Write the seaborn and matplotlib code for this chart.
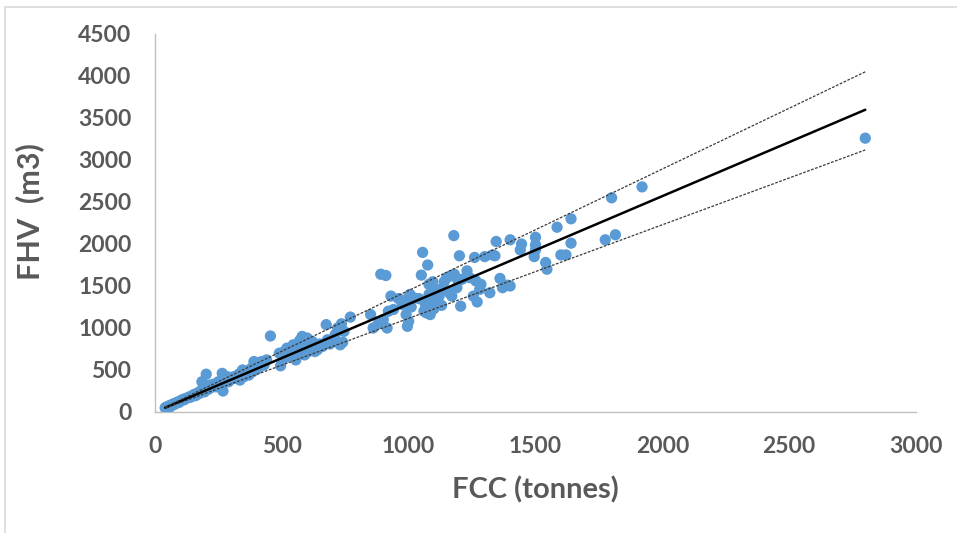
import matplotlib
matplotlib.use("Agg")
import matplotlib.pyplot as plt
from matplotlib.lines import Line2D
import seaborn as sns
import pandas as pd

# ---- data ----
fcc = [40, 45, 50, 55, 60, 62, 70, 75, 80, 85, 90, 95, 100, 105, 110, 115, 120, 130, 135, 140,
       150, 155, 160, 170, 175, 180, 185, 190, 195, 200, 202, 205, 210, 215, 220, 225, 230, 240, 245, 250,
       255, 260, 265, 268, 270, 275, 280, 285, 290, 300, 305, 310, 320, 325, 330, 335, 340, 345, 350, 355,
       360, 370, 380, 385, 390, 395, 400, 405, 410, 420, 430, 440, 455, 490, 495, 500, 510, 515, 520, 530,
       535, 540, 545, 550, 555, 560, 565, 570, 575, 580, 585, 590, 595, 600, 605, 610, 615, 620, 625, 630,
       640, 650, 660, 675, 680, 690, 700, 710, 720, 730, 735, 740, 745, 770, 850, 860, 880, 890, 900, 910,
       915, 920, 930, 940, 960, 975, 980, 990, 995, 1000, 1000, 1005, 1010, 1020, 1040, 1050, 1055, 1060, 1065, 1070,
       1075, 1080, 1080, 1085, 1090, 1095, 1100, 1100, 1110, 1120, 1125, 1130, 1140, 1150, 1160, 1165, 1170, 1178, 1180, 1190,
       1195, 1200, 1205, 1210, 1230, 1240, 1255, 1260, 1265, 1270, 1280, 1285, 1300, 1320, 1330, 1340, 1345, 1360, 1370, 1390,
       1400, 1400, 1440, 1445, 1495, 1500, 1500, 1500, 1540, 1545, 1585, 1600, 1620, 1640, 1640, 1775, 1800, 1815, 1920, 2800]
fhv = [50, 60, 55, 70, 80, 65, 90, 100, 95, 110, 120, 115, 130, 140, 150, 145, 160, 170, 180, 175,
       200, 210, 195, 230, 220, 250, 360, 260, 240, 280, 450, 300, 270, 320, 290, 310, 330, 300, 340, 360,
       330, 350, 460, 250, 380, 370, 400, 420, 360, 390, 410, 420, 400, 430, 450, 380, 470, 500, 420, 460,
       490, 440, 520, 480, 600, 550, 510, 580, 530, 600, 560, 620, 905, 700, 550, 680, 720, 650, 760, 700,
       740, 690, 800, 730, 620, 780, 700, 850, 760, 900, 820, 680, 740, 880, 720, 800, 760, 840, 780, 720,
       740, 810, 780, 1040, 860, 810, 840, 920, 1000, 800, 1050, 830, 960, 1130, 1160, 1000, 1050, 1640, 1100, 1625,
       1000, 1200, 1380, 1220, 1350, 1280, 1330, 1160, 1020, 1080, 1300, 1400, 1250, 1360, 1350, 1630, 1900, 1200, 1290, 1180,
       1750, 1520, 1400, 1160, 1300, 1550, 1440, 1230, 1300, 1380, 1460, 1270, 1550, 1600, 1420, 1620, 1380, 2100, 1640, 1480,
       1560, 1860, 1260, 1580, 1680, 1600, 1380, 1840, 1560, 1310, 1460, 1520, 1850, 1420, 1870, 1860, 2030, 1590, 1480, 1510,
       2050, 1500, 1930, 2000, 1850, 2080, 1990, 1930, 1780, 1700, 2200, 1870, 1870, 2300, 2010, 2050, 2550, 2110, 2680, 3260]

fit_x = [40, 2800]
fit_y = [51, 3598]
upper_y = [58, 4050]
lower_y = [45, 3120]

x_ticks = [0, 500, 1000, 1500, 2000, 2500, 3000]
y_ticks = [0, 500, 1000, 1500, 2000, 2500, 3000, 3500, 4000, 4500]

df = pd.DataFrame({"FCC": fcc, "FHV": fhv})

sns.set_theme(style="white")
plt.rcParams["font.family"] = ["Lato", "DejaVu Sans"]

fig = plt.figure(figsize=(9.57, 5.33), dpi=100)
ax = fig.add_axes([155 / 957, 1 - 412 / 533, (916 - 155) / 957, (412 - 34) / 533])

sns.scatterplot(data=df, x="FCC", y="FHV", ax=ax, color="#5B9BD5", s=66,
                edgecolor="none", linewidth=0, zorder=3)
sns.lineplot(x=fit_x, y=fit_y, ax=ax, color="black", linewidth=1.8, zorder=4)
sns.lineplot(x=fit_x, y=upper_y, ax=ax, color="#3a3a3a", linewidth=0.9, zorder=4,
             linestyle=(0, (2.2, 1.2)))
sns.lineplot(x=fit_x, y=lower_y, ax=ax, color="#3a3a3a", linewidth=0.9, zorder=4,
             linestyle=(0, (2.2, 1.2)))

ax.set_xlim(0, 3000)
ax.set_ylim(0, 4500)
ax.set_xticks(x_ticks)
ax.set_yticks(y_ticks)
ax.set_xticklabels([str(v) for v in x_ticks])
ax.set_yticklabels([str(v) for v in y_ticks])
ax.tick_params(axis="both", length=0, labelsize=16.5, labelcolor="#595959")
ax.tick_params(axis="x", pad=17)
ax.tick_params(axis="y", pad=17)
for lab in ax.get_xticklabels() + ax.get_yticklabels():
    lab.set_fontweight("bold")

for side in ["top", "right"]:
    ax.spines[side].set_visible(False)
for side in ["left", "bottom"]:
    ax.spines[side].set_color("#BFBFBF")
    ax.spines[side].set_linewidth(1.0)

ax.set_xlabel("FCC (tonnes)", fontsize=21, fontweight="bold", color="#595959")
ax.set_ylabel("FHV  (m3)", fontsize=22, fontweight="bold", color="#595959")
ax.xaxis.set_label_coords(0.5, -0.17)
ax.yaxis.set_label_coords(-0.145, 0.53)

# outer frame edges (top and left)
fig.add_artist(Line2D([5 / 957, 1], [1 - 7 / 533, 1 - 7 / 533], transform=fig.transFigure,
                      color="#D9D9D9", linewidth=1.2))
fig.add_artist(Line2D([5 / 957, 5 / 957], [0, 1 - 7 / 533], transform=fig.transFigure,
                      color="#D9D9D9", linewidth=1.2))

fig.savefig("out.png", dpi=100, facecolor="white")
